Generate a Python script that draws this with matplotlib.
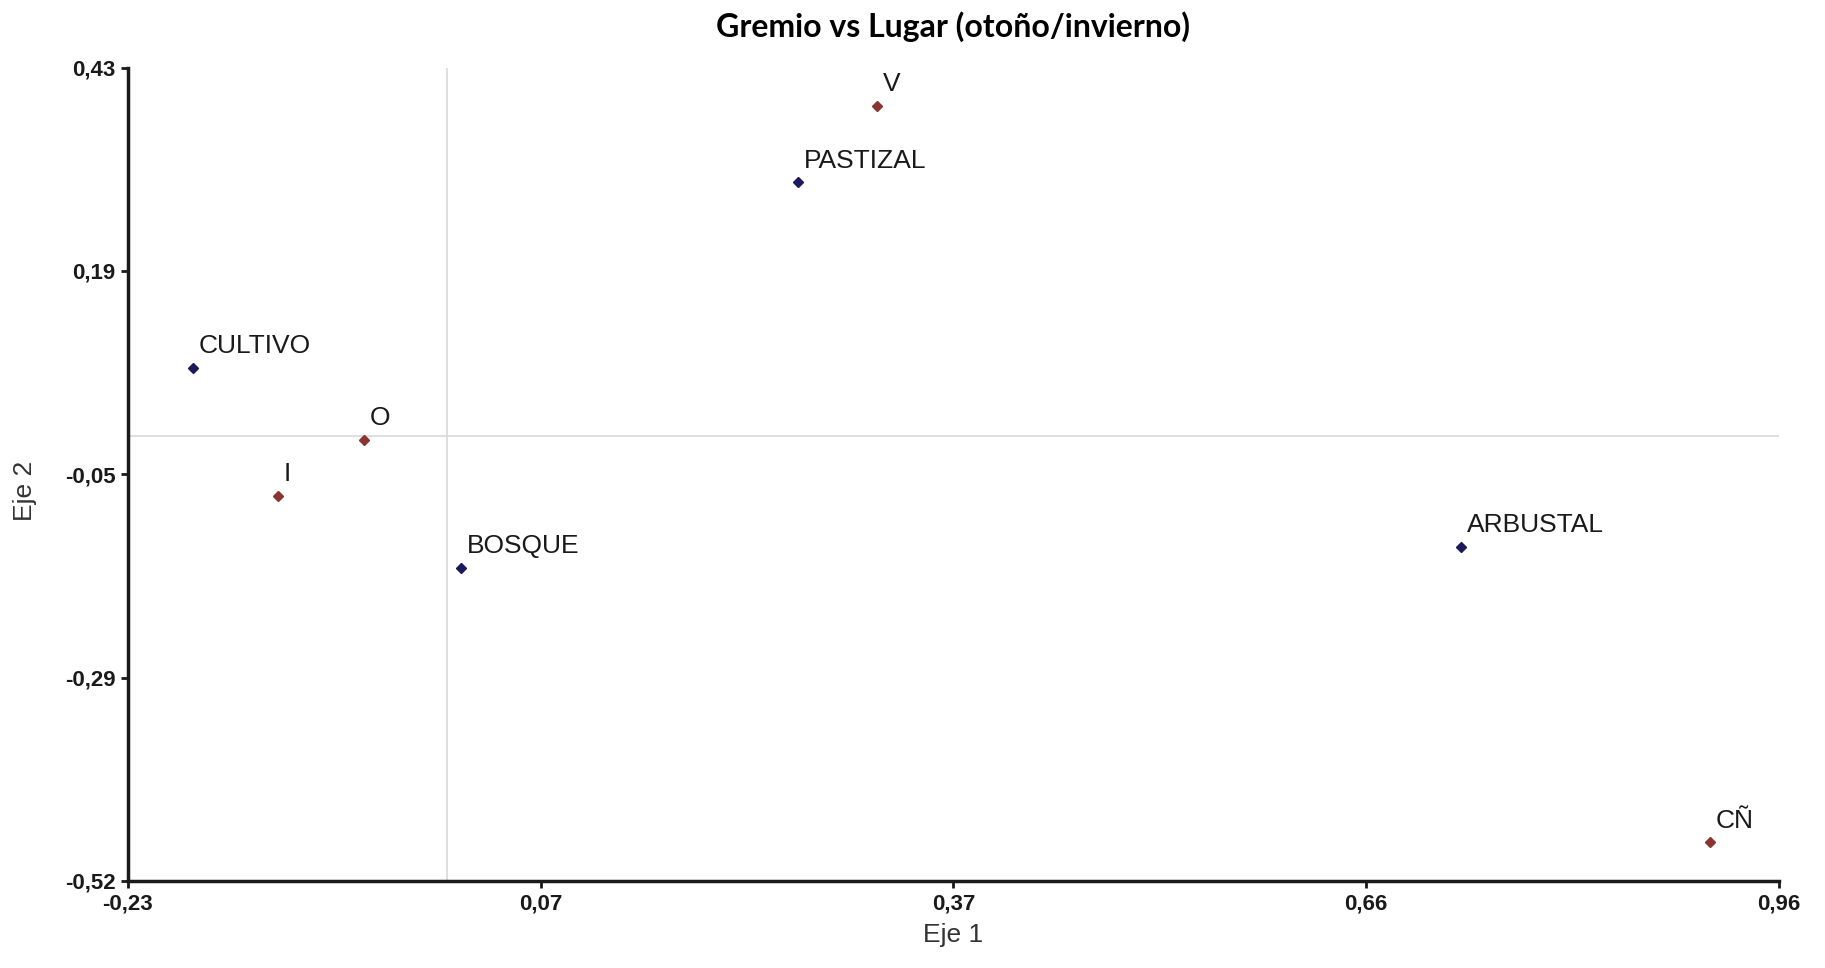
import numpy as np
import matplotlib
matplotlib.use("Agg")
import matplotlib.pyplot as plt

plt.rcParams['font.family'] = ['Liberation Sans', 'DejaVu Sans']

# Sites (Lugar) - dark blue points
sites = ['CULTIVO', 'BOSQUE', 'PASTIZAL', 'ARBUSTAL']
site_x = [-0.183, 0.010, 0.253, 0.731]
site_y = [0.079, -0.154, 0.296, -0.130]

# Guilds (Gremio) - dark red points
guilds = ['O', 'I', 'V', 'CÑ']
guild_x = [-0.060, -0.122, 0.310, 0.910]
guild_y = [-0.005, -0.070, 0.385, -0.475]

# Axis limits and the labels shown on the ticks
x_lim = [-0.23, 0.96]
y_lim = [-0.52, 0.43]
x_tick_labels = ['-0,23', '0,07', '0,37', '0,66', '0,96']
y_tick_labels = ['-0,52', '-0,29', '-0,05', '0,19', '0,43']

site_color = '#1c1a5a'
guild_color = '#8a3530'

fig = plt.figure(figsize=(18.25, 9.68), dpi=100)
ax = fig.add_axes([0.0701, 0.0899, 0.9047, 0.8403])

# reference lines through the origin
ax.axvline(0, color='#d9d9d9', lw=1.2, zorder=1)
ax.axhline(0, color='#d9d9d9', lw=1.2, zorder=1)

ax.plot(site_x, site_y, 'D', color=site_color, markersize=5, zorder=3)
ax.plot(guild_x, guild_y, 'D', color=guild_color, markersize=5, zorder=3)

for name, x, y in zip(sites + guilds, site_x + guild_x, site_y + guild_y):
    ax.annotate(name, (x, y), xytext=(4, 7), textcoords='offset points',
                ha='left', va='bottom', fontsize=19, color='#1a1a1a')

ax.set_xlim(x_lim)
ax.set_ylim(y_lim)
ax.set_xticks(np.linspace(x_lim[0], x_lim[1], len(x_tick_labels)))
ax.set_xticklabels(x_tick_labels, fontsize=16, fontweight='bold')
ax.set_yticks(np.linspace(y_lim[0], y_lim[1], len(y_tick_labels)))
ax.set_yticklabels(y_tick_labels, fontsize=16, fontweight='bold')
ax.tick_params(direction='out', length=5, width=2, pad=4, colors='#1a1a1a')

for side in ['top', 'right']:
    ax.spines[side].set_visible(False)
for side in ['left', 'bottom']:
    ax.spines[side].set_linewidth(2.5)
    ax.spines[side].set_color('#1a1a1a')

ax.set_xlabel('Eje 1', fontsize=19, color='#333333', labelpad=6)
ax.set_ylabel('Eje 2', fontsize=19, color='#333333')
ax.yaxis.set_label_coords(-0.055, 0.48)
ax.set_title('Gremio vs Lugar (otoño/invierno)', fontsize=23, fontweight='bold',
             family=['Lato', 'DejaVu Sans'], pad=22)

fig.savefig('out.png', dpi=100, facecolor='white')
